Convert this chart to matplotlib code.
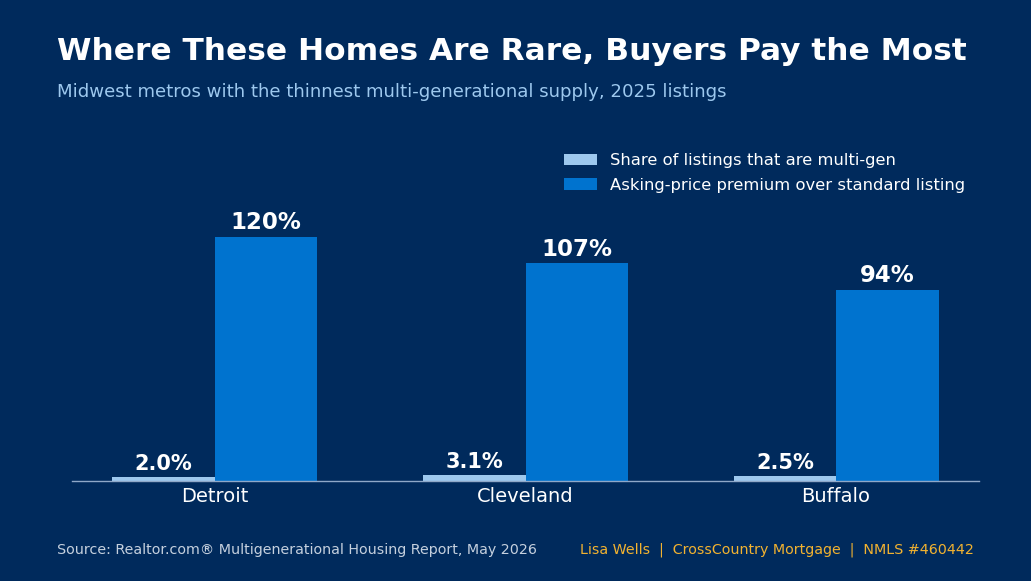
import matplotlib
matplotlib.use("Agg")
import matplotlib.pyplot as plt
import numpy as np

metros = ["Detroit", "Cleveland", "Buffalo"]
share_multigen = [2.0, 3.1, 2.5]
price_premium = [120, 107, 94]

BG = "#002A5C"
LIGHT = "#9DC8EE"
DARK = "#0073CF"

fig = plt.figure(figsize=(10.31, 5.81), dpi=100, facecolor=BG)
ax = fig.add_axes([72 / 1031, 1 - 481 / 581, (979 - 72) / 1031, (481 - 128) / 581])
ax.set_facecolor(BG)

x = np.arange(len(metros))
w = 0.33
b1 = ax.bar(x - w / 2, share_multigen, w, color=LIGHT, label="Share of listings that are multi-gen")
b2 = ax.bar(x + w / 2, price_premium, w, color=DARK, label="Asking-price premium over standard listing")

for rect, v in zip(b1, share_multigen):
    ax.annotate(f"{v:.1f}%", (rect.get_x() + rect.get_width() / 2, rect.get_height()),
                xytext=(0, 2), textcoords="offset points", ha="center", va="bottom",
                color="white", fontsize=15, fontweight="bold")
for rect, v in zip(b2, price_premium):
    ax.annotate(f"{v}%", (rect.get_x() + rect.get_width() / 2, rect.get_height()),
                xytext=(0, 2), textcoords="offset points", ha="center", va="bottom",
                color="white", fontsize=16.5, fontweight="bold")

ax.set_xlim(-0.46, 2.46)
ax.set_ylim(0, 353 / 2.033)
ax.set_xticks(x)
ax.set_xticklabels(metros, color="white", fontsize=14)
ax.tick_params(axis="x", length=0, pad=4.5)
ax.set_yticks([])
for s in ["top", "right", "left"]:
    ax.spines[s].set_visible(False)
ax.spines["bottom"].set_color("#8FA8C8")
ax.spines["bottom"].set_linewidth(1)

leg = ax.legend(loc="upper right", bbox_to_anchor=(965 / 1031, 1 - 153 / 581),
                bbox_transform=fig.transFigure, frameon=False, borderpad=0, borderaxespad=0,
                fontsize=11.75, labelcolor="white", handlelength=2.0, handleheight=0.68,
                handletextpad=0.8, labelspacing=0.6)

fig.text(57 / 1031, 1 - 52 / 581, "Where These Homes Are Rare, Buyers Pay the Most",
         color="white", fontsize=22.5, fontweight="bold", ha="left", va="center")
fig.text(57 / 1031, 1 - 92 / 581, "Midwest metros with the thinnest multi-generational supply, 2025 listings",
         color="#9DC8EE", fontsize=13.1, ha="left", va="center")
fig.text(57 / 1031, 1 - 550 / 581, "Source: Realtor.com® Multigenerational Housing Report, May 2026",
         color="#C5D0DE", fontsize=10.25, ha="left", va="center")
fig.text(974 / 1031, 1 - 550 / 581, "Lisa Wells  |  CrossCountry Mortgage  |  NMLS #460442",
         color="#F2B230", fontsize=10.25, ha="right", va="center")

fig.savefig("out.png", dpi=100, facecolor=BG)
